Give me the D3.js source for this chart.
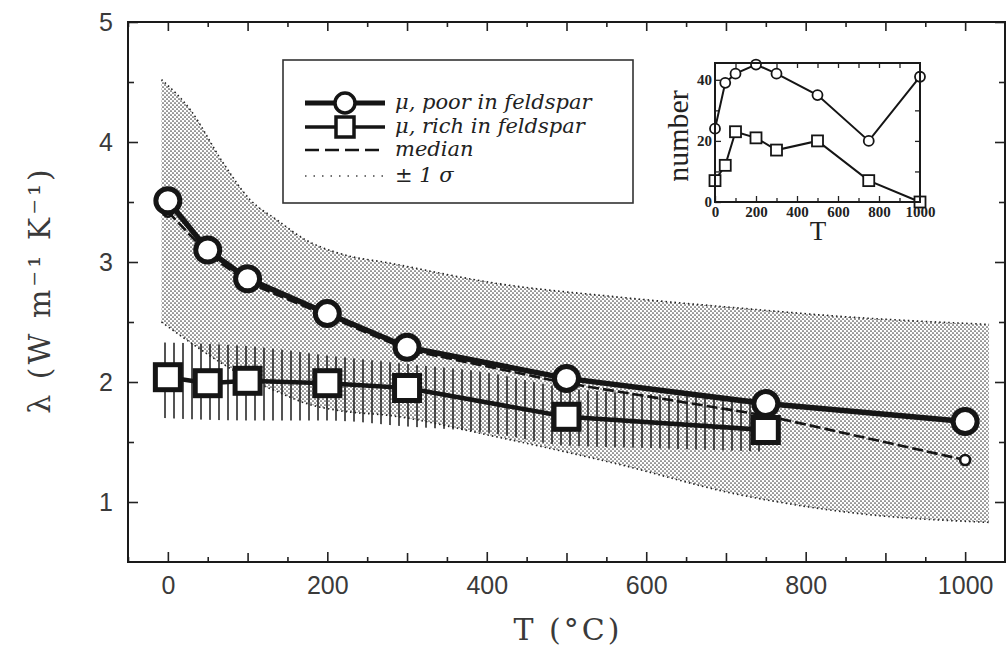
<!DOCTYPE html>
<html>
<head>
<meta charset="utf-8">
<script src="https://cdn.jsdelivr.net/npm/d3@7"></script>
<style>
  body { margin: 0; background: #fff; }
  svg { display: block; }
</style>
</head>
<body>
<div id="chart"></div>
<script>
// ─── DATA ─────────────────────────────────────────────────────────────────────
// main panel: thermal conductivity vs temperature
const temps      = [0, 50, 100, 200, 300, 500, 750, 1000];
const poorMean   = [3.51, 3.10, 2.86, 2.57, 2.29, 2.03, 1.82, 1.67];
const medianVals = [3.42, 3.07, 2.83, 2.55, 2.27, 1.99, 1.72, 1.35];
const richTemps  = [0, 50, 100, 200, 300, 500, 750];
const richMean   = [2.04, 1.99, 2.01, 1.99, 1.95, 1.71, 1.60];

// ±1 sigma band (stippled)
const sigmaT     = [-8, 28, 69, 103, 137, 174, 216, 279, 414, 562, 710, 858, 1030];
const sigmaUpper = [4.52, 4.27, 3.83, 3.52, 3.35, 3.18, 3.07, 2.99, 2.82, 2.71, 2.62, 2.54, 2.48];
const sigmaLower = [2.50, 2.33, 2.15, 2.02, 1.92, 1.82, 1.76, 1.72, 1.54, 1.32, 1.07, 0.91, 0.83];

// ±1 sigma band of feldspar-rich samples (hatched)
const richBandT     = [-5, 100, 200, 300, 400, 500, 600, 745];
const richBandUpper = [2.33, 2.30, 2.22, 2.15, 2.08, 1.95, 1.90, 1.86];
const richBandLower = [1.70, 1.68, 1.68, 1.63, 1.58, 1.47, 1.45, 1.42];

// axis ticks
const xTickLabels = [0, 200, 400, 600, 800, 1000];
const yTickLabels = [1, 2, 3, 4, 5];

// inset: number of samples
const insetPoor = [24, 39, 42, 45, 42, 35, 20, 41];
const insetRich = [7, 12, 23, 21, 17, 20, 7, 0];
const insetXTicks = [0, 200, 400, 600, 800, 1000];
const insetYTicks = [0, 20, 40];

const legendItems = [
  { key: "poor",   label: "\u03bc, poor in feldspar" },
  { key: "rich",   label: "\u03bc, rich in feldspar" },
  { key: "median", label: "median" },
  { key: "sigma",  label: "\u00b1 1 \u03c3" }
];

// ─── SETUP ────────────────────────────────────────────────────────────────────
const W = 1008, H = 650;
const ink = "#151515";
const svg = d3.select("#chart").append("svg")
  .attr("width", W).attr("height", H)
  .style("background", "#fff");

const x = d3.scaleLinear().domain([-50, 1050]).range([128, 1005]);
const y = d3.scaleLinear().domain([0.5, 5]).range([562, 22]);

const defs = svg.append("defs");
const stip = defs.append("pattern").attr("id", "stipple")
  .attr("patternUnits", "userSpaceOnUse").attr("width", 4).attr("height", 4);
stip.append("circle").attr("cx", 1).attr("cy", 1).attr("r", 0.85).attr("fill", "#444");
stip.append("circle").attr("cx", 3).attr("cy", 3).attr("r", 0.85).attr("fill", "#444");

const hatch = defs.append("pattern").attr("id", "hatch")
  .attr("patternUnits", "userSpaceOnUse").attr("width", 9).attr("height", 12);
hatch.append("line").attr("x1", 3).attr("x2", 3).attr("y1", 0).attr("y2", 12)
  .attr("stroke", "#1a1a1a").attr("stroke-width", 1.5);

// ─── BANDS ────────────────────────────────────────────────────────────────────
const sigmaData = sigmaT.map((t, i) => ({ t, lo: sigmaLower[i], hi: sigmaUpper[i] }));
const richBand = richBandT.map((t, i) => ({ t, lo: richBandLower[i], hi: richBandUpper[i] }));

const band = d3.area().curve(d3.curveMonotoneX)
  .x(d => x(d.t)).y0(d => y(d.lo)).y1(d => y(d.hi));

svg.append("path").datum(sigmaData).attr("d", band).attr("fill", "url(#stipple)");
svg.append("path").datum(richBand).attr("d", band).attr("fill", "url(#hatch)");

// dotted sigma edges
const edge = key => d3.line().curve(d3.curveMonotoneX).x(d => x(d.t)).y(d => y(d[key]));
["hi", "lo"].forEach(k => {
  svg.append("path").datum(sigmaData).attr("d", edge(k))
    .attr("fill", "none").attr("stroke", "#222").attr("stroke-width", 1.6)
    .attr("stroke-dasharray", "1.5,3");
});

// ─── SERIES ───────────────────────────────────────────────────────────────────
const line = d3.line().x(d => x(d[0])).y(d => y(d[1]));
const poorPts = temps.map((t, i) => [t, poorMean[i]]);
const richPts = richTemps.map((t, i) => [t, richMean[i]]);
const medPts = temps.map((t, i) => [t, medianVals[i]]);

svg.append("path").datum(medPts).attr("d", line)
  .attr("fill", "none").attr("stroke", ink).attr("stroke-width", 2.6)
  .attr("stroke-dasharray", "11,4");
svg.append("path").datum(poorPts).attr("d", line)
  .attr("fill", "none").attr("stroke", ink).attr("stroke-width", 5.5);
svg.append("path").datum(richPts).attr("d", line)
  .attr("fill", "none").attr("stroke", ink).attr("stroke-width", 4.5);

// median end markers
svg.selectAll(".medEnd").data([medPts[0], medPts[medPts.length - 1]]).enter()
  .append("circle").attr("class", "medEnd")
  .attr("cx", d => x(d[0])).attr("cy", d => y(d[1])).attr("r", 5)
  .attr("fill", "#fff").attr("stroke", ink).attr("stroke-width", 2.6);

svg.selectAll(".poorPt").data(poorPts).enter()
  .append("circle").attr("class", "poorPt")
  .attr("cx", d => x(d[0])).attr("cy", d => y(d[1])).attr("r", 12)
  .attr("fill", "#fff").attr("stroke", ink).attr("stroke-width", 5);

svg.selectAll(".richPt").data(richPts).enter()
  .append("rect").attr("class", "richPt")
  .attr("x", d => x(d[0]) - 12.5).attr("y", d => y(d[1]) - 12.5)
  .attr("width", 25).attr("height", 25)
  .attr("fill", "#fff").attr("stroke", ink).attr("stroke-width", 5);

// ─── AXES & FRAME ─────────────────────────────────────────────────────────────
const tickFont = "'Liberation Sans', Arial, sans-serif";
const styleAxis = g => {
  g.select(".domain").remove();
  g.selectAll("line").attr("stroke", "#222").attr("stroke-width", 1.6);
  g.selectAll("text").attr("font-family", tickFont).attr("font-size", 25)
    .attr("fill", "#3a3a3a");
};

// x axis: labelled ticks every 200, plain every 100, minor every 50
svg.append("g").attr("transform", `translate(0,${y(0.5)})`)
  .call(d3.axisBottom(x).tickValues(xTickLabels).tickSizeInner(-10).tickPadding(14)
    .tickFormat(d3.format("d")))
  .call(styleAxis);
svg.append("g").attr("transform", `translate(0,${y(0.5)})`)
  .call(d3.axisBottom(x).tickValues(d3.range(100, 1001, 200)).tickSizeInner(-9).tickFormat(""))
  .call(styleAxis);
svg.append("g").attr("transform", `translate(0,${y(0.5)})`)
  .call(d3.axisBottom(x).tickValues(d3.range(-50, 1050, 100)).tickSizeInner(-5).tickFormat(""))
  .call(styleAxis);
svg.append("g").attr("transform", `translate(0,${y(5)})`)
  .call(d3.axisTop(x).tickValues(d3.range(0, 1001, 100)).tickSizeInner(-9).tickFormat(""))
  .call(styleAxis);
svg.append("g").attr("transform", `translate(0,${y(5)})`)
  .call(d3.axisTop(x).tickValues(d3.range(-50, 1050, 100)).tickSizeInner(-5).tickFormat(""))
  .call(styleAxis);

// y axis
svg.append("g").attr("transform", `translate(${x(-50)},0)`)
  .call(d3.axisLeft(y).tickValues(yTickLabels).tickSizeInner(-10).tickPadding(15)
    .tickFormat(d3.format("d")))
  .call(styleAxis);
svg.append("g").attr("transform", `translate(${x(-50)},0)`)
  .call(d3.axisLeft(y).tickValues(d3.range(1.5, 5, 1)).tickSizeInner(-6).tickFormat(""))
  .call(styleAxis);
svg.append("g").attr("transform", `translate(${x(1050)},0)`)
  .call(d3.axisRight(y).tickValues(yTickLabels).tickSizeInner(-10).tickFormat(""))
  .call(styleAxis);
svg.append("g").attr("transform", `translate(${x(1050)},0)`)
  .call(d3.axisRight(y).tickValues(d3.range(1.5, 5, 1)).tickSizeInner(-6).tickFormat(""))
  .call(styleAxis);

svg.append("rect")
  .attr("x", x(-50)).attr("y", y(5))
  .attr("width", x(1050) - x(-50)).attr("height", y(0.5) - y(5))
  .attr("fill", "none").attr("stroke", "#1a1a1a").attr("stroke-width", 2);

// axis titles
const titleFont = "'DejaVu Serif', 'Liberation Serif', serif";
svg.append("text")
  .attr("x", 568).attr("y", 640)
  .attr("text-anchor", "middle")
  .attr("font-family", titleFont).attr("font-size", 30).attr("fill", "#3a3a3a")
  .attr("letter-spacing", 3)
  .text("T (\u00b0C)");

svg.append("text")
  .attr("transform", "translate(50,290) rotate(-90)")
  .attr("text-anchor", "middle")
  .attr("font-family", titleFont).attr("font-size", 30).attr("fill", "#3a3a3a")
  .attr("letter-spacing", 3)
  .text("\u03bb (W m\u207b\u00b9 K\u207b\u00b9)");

// ─── LEGEND ───────────────────────────────────────────────────────────────────
const lg = svg.append("g").attr("transform", "translate(283,60)");
lg.append("rect").attr("width", 350).attr("height", 143)
  .attr("fill", "#fff").attr("stroke", "#333").attr("stroke-width", 1.6);

const rowY = [43, 67, 90, 116];
legendItems.forEach((item, i) => {
  const row = lg.append("g").attr("transform", `translate(0,${rowY[i]})`);
  const seg = row.append("line").attr("x1", 22).attr("x2", 102)
    .attr("stroke", ink).attr("fill", "none");
  if (item.key === "poor") {
    seg.attr("stroke-width", 5);
    row.append("circle").attr("cx", 62).attr("r", 10)
      .attr("fill", "#fff").attr("stroke", ink).attr("stroke-width", 3.5);
  } else if (item.key === "rich") {
    seg.attr("stroke-width", 3.5);
    row.append("rect").attr("x", 53).attr("y", -10).attr("width", 18).attr("height", 20)
      .attr("fill", "#fff").attr("stroke", ink).attr("stroke-width", 3.5);
  } else if (item.key === "median") {
    seg.attr("stroke-width", 2.4).attr("stroke-dasharray", "14,6");
  } else {
    seg.attr("stroke-width", 1.6).attr("stroke-dasharray", "1.5,7").attr("stroke", "#444");
  }
  row.append("text").attr("x", 112).attr("y", 6)
    .attr("font-family", titleFont).attr("font-style", "italic")
    .attr("font-size", 21).attr("fill", "#222")
    .text(item.label);
});

// ─── INSET ────────────────────────────────────────────────────────────────────
const ix = d3.scaleLinear().domain([0, 1000]).range([715, 920]);
const iy = d3.scaleLinear().domain([0, 45.5]).range([202, 63]);
const inset = svg.append("g");

inset.append("rect")
  .attr("x", ix(0)).attr("y", iy(45.5))
  .attr("width", ix(1000) - ix(0)).attr("height", iy(0) - iy(45.5))
  .attr("fill", "#fff");

const insetFont = "'Liberation Serif', 'DejaVu Serif', serif";
const styleInset = g => {
  g.select(".domain").remove();
  g.selectAll("line").attr("stroke", "#222").attr("stroke-width", 1.3);
  g.selectAll("text").attr("font-family", insetFont).attr("font-size", 15)
    .attr("font-weight", "bold").attr("fill", "#222");
};
inset.append("g").attr("transform", `translate(0,${iy(0)})`)
  .call(d3.axisBottom(ix).tickValues(insetXTicks).tickSizeInner(-6).tickPadding(4)
    .tickFormat(d3.format("d")))
  .call(styleInset);
inset.append("g").attr("transform", `translate(0,${iy(0)})`)
  .call(d3.axisBottom(ix).tickValues(d3.range(100, 1000, 200)).tickSizeInner(-4).tickFormat(""))
  .call(styleInset);
inset.append("g").attr("transform", `translate(0,${iy(45.5)})`)
  .call(d3.axisTop(ix).tickValues(d3.range(100, 1000, 100)).tickSizeInner(-5).tickFormat(""))
  .call(styleInset);
inset.append("g").attr("transform", `translate(${ix(0)},0)`)
  .call(d3.axisLeft(iy).tickValues(insetYTicks).tickSizeInner(-6).tickPadding(3)
    .tickFormat(d3.format("d")))
  .call(styleInset);
inset.append("g").attr("transform", `translate(${ix(0)},0)`)
  .call(d3.axisLeft(iy).tickValues([10, 30]).tickSizeInner(-4).tickFormat(""))
  .call(styleInset);
inset.append("g").attr("transform", `translate(${ix(1000)},0)`)
  .call(d3.axisRight(iy).tickValues([10, 20, 30, 40]).tickSizeInner(-5).tickFormat(""))
  .call(styleInset);

const iline = d3.line().x(d => ix(d[0])).y(d => iy(d[1]));
const iPoor = temps.map((t, i) => [t, insetPoor[i]]);
const iRich = temps.map((t, i) => [t, insetRich[i]]);

[iPoor, iRich].forEach(pts => {
  inset.append("path").datum(pts).attr("d", iline)
    .attr("fill", "none").attr("stroke", ink).attr("stroke-width", 2);
});
inset.selectAll(".ipoor").data(iPoor).enter().append("circle").attr("class", "ipoor")
  .attr("cx", d => ix(d[0])).attr("cy", d => iy(d[1])).attr("r", 5)
  .attr("fill", "#fff").attr("stroke", ink).attr("stroke-width", 1.8);
inset.selectAll(".irich").data(iRich).enter().append("rect").attr("class", "irich")
  .attr("x", d => ix(d[0]) - 5.5).attr("y", d => iy(d[1]) - 5.5)
  .attr("width", 11).attr("height", 11)
  .attr("fill", "#fff").attr("stroke", ink).attr("stroke-width", 1.8);

inset.append("rect")
  .attr("x", ix(0)).attr("y", iy(45.5))
  .attr("width", ix(1000) - ix(0)).attr("height", iy(0) - iy(45.5))
  .attr("fill", "none").attr("stroke", "#1a1a1a").attr("stroke-width", 2);

inset.append("text")
  .attr("x", 818).attr("y", 240).attr("text-anchor", "middle")
  .attr("font-family", insetFont).attr("font-size", 27).attr("fill", "#222")
  .text("T");
inset.append("text")
  .attr("transform", "translate(688,136) rotate(-90)")
  .attr("text-anchor", "middle")
  .attr("font-family", insetFont).attr("font-size", 30).attr("fill", "#222")
  .text("number");
</script>
</body>
</html>
